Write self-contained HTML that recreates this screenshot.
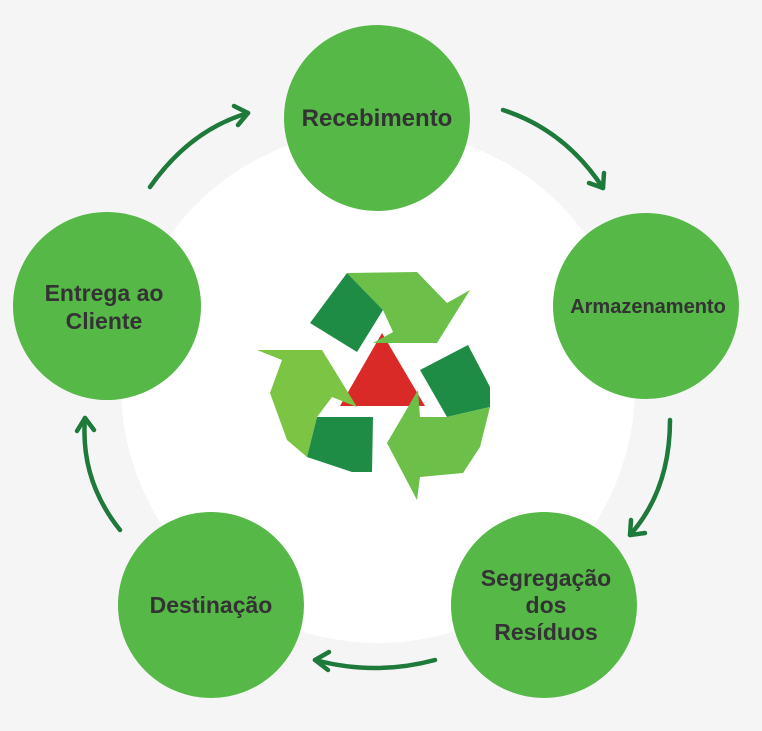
<!DOCTYPE html>
<html><head><style>
html,body{margin:0;padding:0;width:762px;height:731px;overflow:hidden;background:#f5f5f5}
text{font-family:"Liberation Sans",sans-serif;font-weight:bold;fill:#333;text-anchor:middle}
</style></head><body>
<svg width="762" height="731" viewBox="0 0 762 731">
<rect width="762" height="731" fill="#f5f5f5"/>
<circle cx="378" cy="386" r="257" fill="#fff"/>
<g fill="#55b847">
<circle cx="377" cy="118" r="93"/>
<circle cx="646" cy="306" r="93"/>
<circle cx="544" cy="605" r="93"/>
<circle cx="211" cy="605" r="93"/>
<circle cx="107" cy="306" r="94"/>
</g>
<text x="377" y="126" style="font-size:24px">Recebimento</text>
<text x="648" y="313" style="font-size:20px">Armazenamento</text>
<text x="546" y="586" style="font-size:23px">Segregação</text>
<text x="546" y="613" style="font-size:23px">dos</text>
<text x="546" y="640" style="font-size:23px">Resíduos</text>
<text x="211" y="613" style="font-size:23px">Destinação</text>
<text x="104" y="301" style="font-size:23px">Entrega ao</text>
<text x="104" y="329" style="font-size:23px">Cliente</text>
<g fill="none" stroke="#1e7a3a" stroke-width="4.5" stroke-linecap="round" stroke-linejoin="round">
<path d="M150 187 Q190 130 248 113"/><path d="M234 106 L248 113 L238 125"/>
<path d="M503 110 Q565 130 603 188"/><path d="M604 173 L603 188 L589 183"/>
<path d="M670 420 Q670 490 630 535"/><path d="M631 520 L630 535 L645 533"/>
<path d="M435 660 Q375 676 315 660"/><path d="M329 652 L315 660 L328 670"/>
<path d="M120 530 Q80 480 85 418"/><path d="M77 431 L85 418 L94 430"/>
</g>
<polygon points="340,406 382,333 425,406" fill="#d92a27"/>
<polygon points="347,273 417,272 447,303 470,290 437,343 373,343 393,332 383,310" fill="#6cc04a"/>
<polygon points="310,323 347,273 383,310 357,352" fill="#1f8c45"/>
<polygon points="257,350 322,350 357,407 332,397 317,417 307,457 287,440 270,393 282,360" fill="#7cc443"/>
<polygon points="317,417 373,417 372,472 352,472 307,457" fill="#1f8c45"/>
<polygon points="420,370 468,345 490,387 490,407 447,417" fill="#1f8c45"/>
<polygon points="447,417 490,407 480,447 463,473 420,477 417,500 387,443 418,390 420,417" fill="#6cc04a"/>
</svg>
</body></html>
